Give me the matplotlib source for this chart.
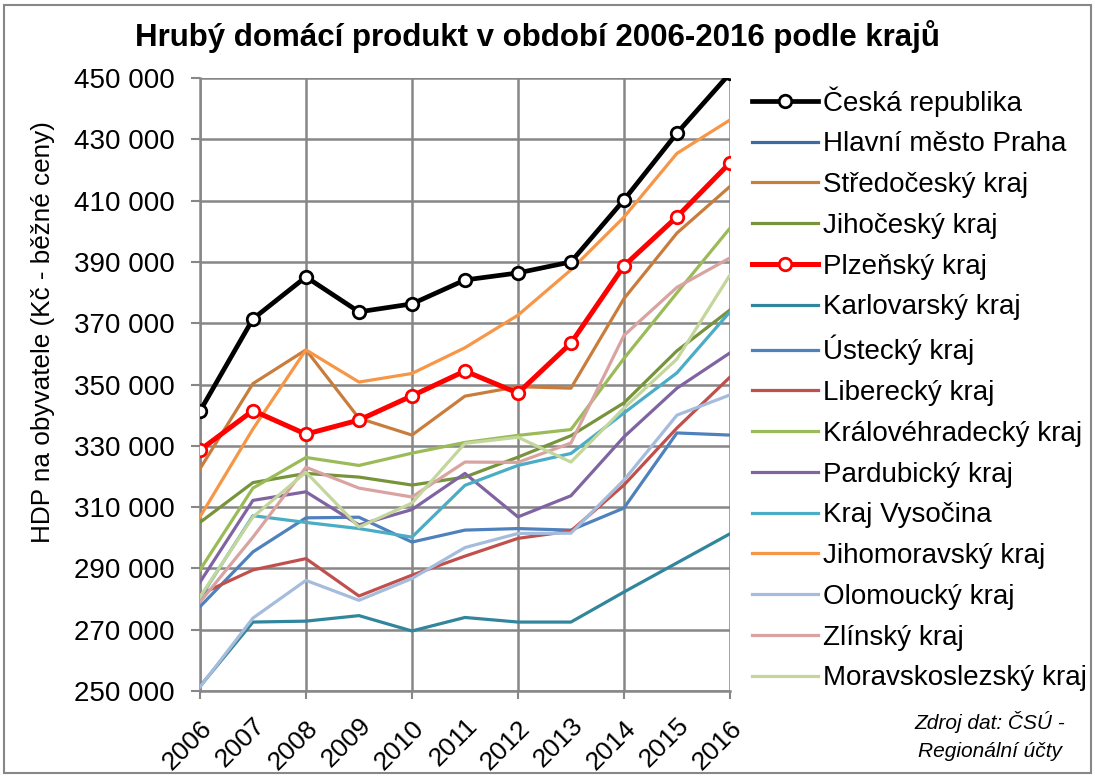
import matplotlib
matplotlib.use("Agg")
import matplotlib.pyplot as plt
from matplotlib.patches import Rectangle
from matplotlib.ticker import FuncFormatter

plt.rcParams['font.family'] = ['Liberation Sans', 'DejaVu Sans']

years = list(range(2006, 2017))

cr = [341300, 371400, 385100, 373700, 376300, 384100, 386400, 390000, 410200, 432000, 451500]
praha = [720000, 780000, 820000, 810000, 800000, 815000, 810000, 800000, 840000, 880000, 905000]
stredocesky = [322500, 350300, 361300, 339000, 333500, 346200, 349300, 348800, 378000, 399400, 414600]
jihocesky = [305000, 318000, 321000, 319800, 317200, 319800, 326300, 333300, 344000, 361000, 374300]
plzensky = [328600, 341500, 333800, 338400, 346300, 354400, 347200, 363500, 388700, 404700, 422300]
karlovarsky = [251500, 272500, 272800, 274600, 269600, 274000, 272500, 272500, 282300, 291800, 301300]
ustecky = [277500, 295400, 306500, 306700, 298600, 302500, 303000, 302500, 309700, 334200, 333500]
liberecky = [281500, 289500, 293200, 281000, 287800, 294000, 299800, 302200, 317200, 335800, 352400]
kralovehradecky = [289500, 316200, 326200, 323600, 327600, 331100, 333400, 335300, 358500, 379900, 401000]
pardubicky = [285500, 312200, 315000, 304200, 309200, 321000, 306800, 313700, 332900, 348800, 360300]
vysocina = [280300, 307200, 305000, 303000, 300200, 317100, 323600, 327500, 340700, 353800, 373700]
jihomoravsky = [306800, 335500, 361300, 350800, 353600, 362000, 372600, 387400, 404600, 425400, 436300]
olomoucky = [251300, 273800, 286100, 279600, 286700, 296800, 301400, 301500, 318800, 340000, 346600]
zlinsky = [279000, 300200, 323000, 316200, 313300, 324700, 324600, 330900, 366000, 381700, 391300]
moravskoslezsky = [280700, 306800, 321400, 303500, 311300, 330800, 332800, 324700, 342300, 358300, 385700]

series = [
    ("Česká republika", cr, "black"),
    ("Hlavní město Praha", praha, "#3D6AA5"),
    ("Středočeský kraj", stredocesky, "#C87D3C"),
    ("Jihočeský kraj", jihocesky, "#77933C"),
    ("Plzeňský kraj", plzensky, "#FF0000"),
    ("Karlovarský kraj", karlovarsky, "#31859C"),
    ("Ústecký kraj", ustecky, "#4F81BD"),
    ("Liberecký kraj", liberecky, "#C0504D"),
    ("Královéhradecký kraj", kralovehradecky, "#9BBB59"),
    ("Pardubický kraj", pardubicky, "#8064A2"),
    ("Kraj Vysočina", vysocina, "#4BACC6"),
    ("Jihomoravský kraj", jihomoravsky, "#F79646"),
    ("Olomoucký kraj", olomoucky, "#A5BCDD"),
    ("Zlínský kraj", zlinsky, "#D9A3A1"),
    ("Moravskoslezský kraj", moravskoslezsky, "#C3D69B"),
]

fig = plt.figure(figsize=(10.95, 7.76), dpi=100)
ax = fig.add_axes([0.1826, 0.1095, 0.484, 0.790])

for i, (name, vals, col) in enumerate(series):
    if name == "Česká republika":
        ax.plot(years, vals, color=col, lw=3.4, marker='o', ms=9, mfc='white',
                mec=col, mew=2, label=name, zorder=20)
    elif name == "Plzeňský kraj":
        ax.plot(years, vals, color=col, lw=3.6, marker='o', ms=9, mfc='white',
                mec=col, mew=2, label=name, zorder=19)
    else:
        ax.plot(years, vals, color=col, lw=2.3, label=name, zorder=3 + i)

ax.set_xlim(2006, 2016)
ax.set_ylim(250000, 450000)
ax.set_yticks(range(250000, 450001, 20000))
ax.yaxis.set_major_formatter(FuncFormatter(lambda v, p: f"{int(v):,}".replace(",", " ")))

# gridlines only every second year, labels every year
even = years[::2]
odd = years[1::2]
ax.set_xticks(even, [str(y) for y in even])
ax.set_xticks(odd, [str(y) for y in odd], minor=True)
for lab in ax.get_xticklabels(which='both'):
    lab.set_rotation(45)
    lab.set_ha('right')
    lab.set_va('top')
    lab.set_rotation_mode('anchor')

ax.tick_params(axis='y', labelsize=20, length=6.5, width=1.5, color='#878787', pad=12)
ax.tick_params(axis='x', which='major', labelsize=19, length=6, width=1.5, color='#878787', pad=12)
ax.tick_params(axis='x', which='minor', labelsize=19, length=0, pad=16)

ax.grid(True, which='major', color='#878787', lw=1.8)
ax.set_axisbelow(True)
for side in ['top', 'right']:
    ax.spines[side].set_visible(False)
for side in ['left', 'bottom']:
    ax.spines[side].set_color('#878787')
    ax.spines[side].set_linewidth(1.8)

fig.text(0.039, 0.572, "HDP na obyvatele (Kč - běžné ceny)", fontsize=18.8,
         rotation=90, ha='center', va='center')

fig.text(0.491, 0.953, "Hrubý domácí produkt v období 2006-2016 podle krajů",
         fontsize=22.5, fontweight='bold', ha='center', va='center')

handles, labels = ax.get_legend_handles_labels()
fig.legend(handles, labels, loc='upper left', bbox_to_anchor=(0.687, 0.889),
           frameon=False, fontsize=20, handlelength=2.35, handletextpad=0.2,
           labelspacing=0.53, borderaxespad=0, borderpad=0)

fig.text(0.904, 0.070, "Zdroj dat: ČSÚ -", fontsize=15, style='italic',
         ha='center', va='center')
fig.text(0.904, 0.032, "Regionální účty", fontsize=15, style='italic',
         ha='center', va='center')

fig.add_artist(Rectangle((0.004, 0.004), 0.992, 0.990, transform=fig.transFigure,
                         fill=False, edgecolor='#878787', lw=1.5))

fig.savefig("out.png", dpi=100)
